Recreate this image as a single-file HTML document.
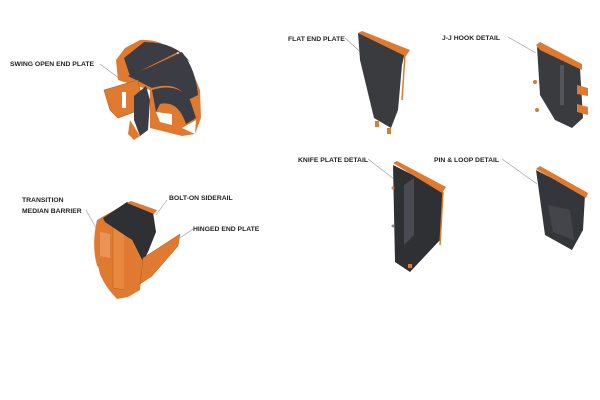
<!DOCTYPE html>
<html><head><style>
html,body{margin:0;padding:0;background:#fff;}
svg{display:block}
text{font-family:"Liberation Sans",sans-serif;font-weight:bold;font-size:6.8px;fill:#222;}
</style></head><body>
<svg width="600" height="400" viewBox="0 0 600 400" xmlns="http://www.w3.org/2000/svg">
<g stroke="#999" stroke-width="0.6" fill="none">
<line x1="100" y1="64" x2="124" y2="82"/>
<line x1="86" y1="210" x2="96" y2="228"/>
<line x1="167" y1="200" x2="156" y2="215"/>
<line x1="193" y1="229" x2="180" y2="238"/>
<line x1="345" y1="38" x2="375" y2="65"/>
<line x1="508" y1="37" x2="536" y2="53"/>
<line x1="368" y1="159" x2="412" y2="193"/>
<line x1="502" y1="159" x2="537" y2="184"/>
</g>
<text x="10" y="66">SWING OPEN END PLATE</text>
<text x="22" y="202">TRANSITION</text>
<text x="22" y="213">MEDIAN BARRIER</text>
<text x="169" y="200">BOLT-ON SIDERAIL</text>
<text x="193" y="231">HINGED END PLATE</text>
<text x="288" y="41">FLAT END PLATE</text>
<text x="442" y="40">J-J HOOK DETAIL</text>
<text x="298" y="162">KNIFE PLATE DETAIL</text>
<text x="434" y="162">PIN &amp; LOOP DETAIL</text>

<!-- top-left assembly -->
<path d="M116 60 L125 48 L140 40 Q180 38 200 90 L201 118 L195 134 L182 136 L150 128 L150 90 L118 80 Z" fill="#e07a30"/>
<path d="M124 58 L144 42 Q176 42 190 62 L178 52 L150 66 L130 76 Z" fill="#3c3d44"/>
<path d="M128 76 L152 66 L182 52 Q196 70 198 95 L188 100 Q178 80 152 88 Z" fill="#3c3d44"/>
<path d="M152 90 Q178 82 190 100 L196 118 L186 124 Q178 100 160 104 L156 112 Z" fill="#3c3d44"/>
<path d="M156 112 L172 114 L172 125 L160 122 Z" fill="#fff"/>
<path d="M182 128 L196 120 L195 134 Z" fill="#fff"/>
<path d="M104 90 L138 80 L142 100 L134 112 L118 118 L110 110 Z" fill="#e07a30" stroke="#b85a1a" stroke-width="0.6"/>
<path d="M122 92 L126 92 L126 108 L122 108 Z" fill="#fff"/>
<path d="M134 96 L146 86 L150 100 L148 130 L140 136 L134 120 Z" fill="#3c3d44"/>
<path d="M130 120 L140 136 L134 140 L128 134 Z" fill="#e07a30"/>

<!-- bottom-left assembly -->
<path d="M97 220 L104 216 L127 203 L130 240 L128 297 L117 299 Q86 268 97 220 Z" fill="#e07a30"/>
<path d="M86 268 L98 266 L102 282 L92 282 Z" fill="#fff"/>
<path d="M100 232 L110 234 L110 258 L100 256 Z" fill="#e9955a"/>
<path d="M113 226 L125 228 L125 290 L113 288 Z" fill="#e8883e" stroke="#b85a1a" stroke-width="0.5"/>
<path d="M103 218 L127 202 L153 212 L156 232 L148 252 L143 262 L132 240 L105 222 Z" fill="#2f3034"/>
<path d="M127 203 L131 201 L157 210 L154 214 Z" fill="#e07a30"/>
<path d="M124 236 L132 240 L143 262 L140 290 L128 297 L124 296 Z" fill="#e07a30"/>
<path d="M143 258 L180 234 L178 246 L152 276 L140 284 Z" fill="#e07a30" stroke="#b85a1a" stroke-width="0.5"/>

<!-- flat end plate -->
<path d="M358 33 L405 52 L402 65 L398 110 L391 128 L374 118 L360 60 Z" fill="#3a3b3f"/>
<path d="M358 33 L362 31 L410 50 L406 56 L403 55 Z" fill="#e07a30"/>
<line x1="405" y1="55" x2="402" y2="100" stroke="#e07a30" stroke-width="1.5"/>
<rect x="375" y="121" width="4" height="6" fill="#e07a30"/>
<rect x="387" y="128" width="4" height="6" fill="#e07a30"/>

<!-- J-J hook -->
<path d="M537 47 L580 68 L583 118 L572 128 L555 120 L540 95 Z" fill="#3a3b3f"/>
<path d="M536 45 L540 42 L582 64 L582 70 L540 50 Z" fill="#e07a30"/>
<rect x="560" y="65" width="4" height="40" fill="#55565c"/>
<path d="M577 85 L588 88 L588 96 L577 94 Z M577 104 L588 107 L588 115 L577 112 Z" fill="#e07a30"/>
<circle cx="535" cy="82" r="2" fill="#e07a30"/>
<circle cx="537" cy="110" r="2" fill="#e07a30"/>

<!-- knife plate -->
<path d="M393 165 L443 190 L440 240 L410 272 L395 262 Z" fill="#2f3034"/>
<path d="M393 163 L397 161 L446 187 L442 193 Z" fill="#e07a30"/>
<line x1="443" y1="192" x2="440" y2="245" stroke="#e07a30" stroke-width="1.5"/>
<path d="M404 185 L414 178 L414 235 L404 245 Z" fill="#4a4b52"/>
<circle cx="393" cy="188" r="1.5" fill="#e07a30"/>
<circle cx="393" cy="226" r="1.5" fill="#888"/>
<rect x="408" y="264" width="4" height="4" fill="#e07a30"/>

<!-- pin & loop -->
<path d="M536 170 L585 195 L583 230 L572 250 L545 235 Z" fill="#35363b"/>
<path d="M536 169 L540 166 L588 193 L586 198 Z" fill="#e07a30"/>
<path d="M548 205 L570 210 L574 240 L553 232 Z" fill="#44454b"/>
</svg>
</body></html>
